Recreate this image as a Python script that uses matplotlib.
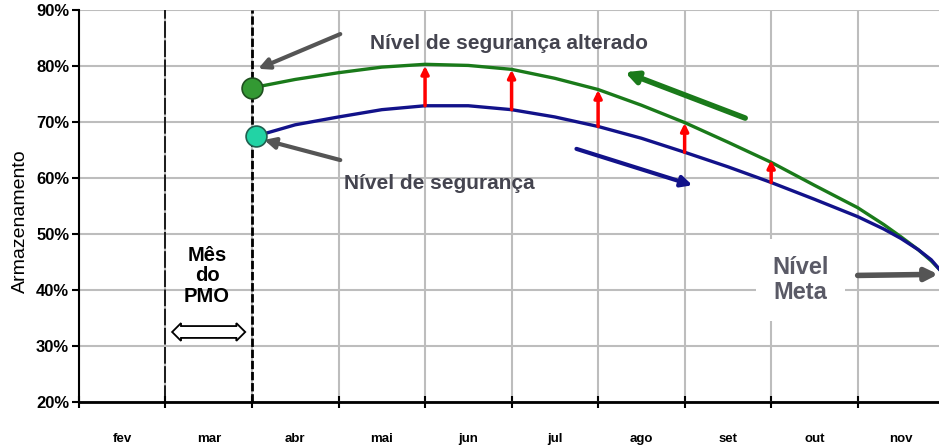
import numpy as np
import matplotlib.pyplot as plt

plt.rcParams['font.family'] = ['Liberation Sans', 'DejaVu Sans']

# month labels sit between the month boundaries 0..10
months = ['fev', 'mar', 'abr', 'mai', 'jun', 'jul', 'ago', 'set', 'out', 'nov']
y_ticks = [0.2, 0.3, 0.4, 0.5, 0.6, 0.7, 0.8, 0.9]

# Nivel de seguranca alterado (green)
green_x = [2.0, 2.5, 3.0, 3.5, 4.0, 4.5, 5.0, 5.5, 6.0, 6.5, 7.0, 7.5, 8.0, 8.5,
           9.0, 9.3, 9.5, 9.7, 9.85, 9.95]
green_y = [0.761, 0.776, 0.788, 0.798, 0.803, 0.801, 0.794, 0.778, 0.758, 0.730,
           0.699, 0.664, 0.628, 0.587, 0.547, 0.517, 0.495, 0.472, 0.452, 0.436]

# Nivel de seguranca (blue)
blue_x = [2.05, 2.5, 3.0, 3.5, 4.0, 4.5, 5.0, 5.5, 6.0, 6.5, 7.0, 7.5, 8.0, 8.5,
          9.0, 9.3, 9.5, 9.7, 9.85, 9.95]
blue_y = [0.675, 0.695, 0.709, 0.722, 0.729, 0.729, 0.722, 0.709, 0.692, 0.671,
          0.646, 0.620, 0.592, 0.562, 0.531, 0.509, 0.492, 0.472, 0.454, 0.436]

# red arrows: blue level -> altered level
red_x = [4, 5, 6, 7, 8]
red_from = [0.729, 0.722, 0.692, 0.646, 0.592]
red_to = [0.800, 0.793, 0.757, 0.698, 0.632]

fig = plt.figure(figsize=(9.39, 4.48), dpi=100)
ax = fig.add_axes([0.0841, 0.1027, 0.9159, 0.875])

ax.set_xlim(0, 9.94)
ax.set_ylim(0.2, 0.9)

# grid
ax.set_xticks(range(0, 10))
ax.set_xticklabels([])
ax.set_xticks(np.arange(0.5, 10, 1), minor=True)
ax.set_xticklabels(months, minor=True, fontsize=9.5, fontweight='bold')
ax.tick_params(axis='x', which='major', direction='inout', length=8, width=1.5)
ax.tick_params(axis='x', which='minor', length=0, pad=22)
ax.set_yticks(y_ticks)
ax.set_yticklabels([f'{int(round(v * 100))}%' for v in y_ticks],
                   fontsize=12, fontweight='bold')
ax.tick_params(axis='y', direction='out', length=5, width=1.5, pad=2)
ax.grid(True, which='major', color='#bdbdbd', lw=1.5)
ax.set_axisbelow(True)
for s in ['top', 'right']:
    ax.spines[s].set_visible(False)
ax.spines['left'].set_linewidth(1.5)
ax.spines['bottom'].set_linewidth(2)

ax.set_ylabel('Armazenamento', fontsize=14)
ax.yaxis.set_label_coords(-0.058, 0.46)

# PMO month boundaries
ax.axvline(1, color='black', lw=1.2, ls=(0, (10, 1.5)), zorder=3)
ax.axvline(2, color='black', lw=2, ls=(0, (3, 1)), zorder=3)

# curves
ax.plot(green_x, green_y, color='#1a7a1a', lw=2.4, zorder=4)
ax.plot(blue_x, blue_y, color='#12128a', lw=2.4, zorder=4)
ax.plot(green_x[0], green_y[0], 'o', ms=15, mfc='#339933', mec='#1f4f1f', mew=1.2, zorder=6)
ax.plot(blue_x[0], blue_y[0], 'o', ms=15, mfc='#22d3a5', mec='#1f5f4f', mew=1.2, zorder=6)

for x, y0, y1 in zip(red_x, red_from, red_to):
    ax.annotate('', xy=(x, y1), xytext=(x, y0),
                arrowprops=dict(arrowstyle='-|>', color='red', lw=2.5,
                                mutation_scale=11, shrinkA=0, shrinkB=0), zorder=5)

# direction arrows
ax.annotate('', xy=(6.31, 0.789), xytext=(7.70, 0.707),
            arrowprops=dict(arrowstyle='-|>', color='#1a7a1a', lw=4,
                            mutation_scale=18, shrinkA=0, shrinkB=0))
ax.annotate('', xy=(7.09, 0.587), xytext=(5.75, 0.652),
            arrowprops=dict(arrowstyle='-|>', color='#12128a', lw=3,
                            mutation_scale=16, shrinkA=0, shrinkB=0))

gray = '#555555'
txt = '#44444f'
ax.annotate('', xy=(2.07, 0.795), xytext=(3.02, 0.857),
            arrowprops=dict(arrowstyle='-|>', color=gray, lw=3,
                            mutation_scale=16, shrinkA=0, shrinkB=0))
ax.annotate('', xy=(2.14, 0.668), xytext=(3.02, 0.632),
            arrowprops=dict(arrowstyle='-|>', color=gray, lw=3,
                            mutation_scale=16, shrinkA=0, shrinkB=0))
ax.annotate('', xy=(9.93, 0.428), xytext=(9.0, 0.426),
            arrowprops=dict(arrowstyle='-|>', color=gray, lw=4,
                            mutation_scale=18, shrinkA=0, shrinkB=0))

ax.text(4.97, 0.841, 'Nível de segurança alterado', fontsize=15,
        fontweight='bold', color=txt, ha='center', va='center')
ax.text(4.17, 0.591, 'Nível de segurança', fontsize=15,
        fontweight='bold', color=txt, ha='center', va='center')
ax.text(8.34, 0.418, 'Nível\nMeta', fontsize=17, fontweight='bold', color='#5a5a66',
        ha='center', va='center', linespacing=1.15,
        bbox=dict(boxstyle='square,pad=0.7', fc='white', ec='none'))
ax.text(1.48, 0.425, 'Mês\ndo\nPMO', fontsize=14.5, fontweight='bold', color='black',
        ha='center', va='center', linespacing=1.1)

# hollow double arrow for the PMO month
ax.text(1.5, 0.325, ' ' * 30, fontsize=5, ha='center', va='center',
        bbox=dict(boxstyle='darrow,pad=0.35', fc='white', ec='black', lw=1.3))

fig.savefig('out.png', dpi=100)
